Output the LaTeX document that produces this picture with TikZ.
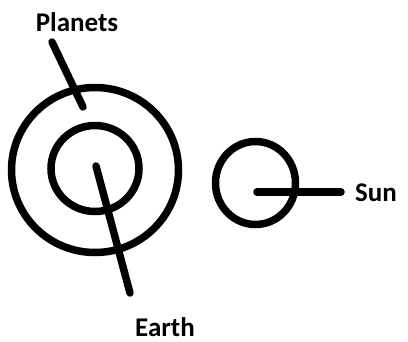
\documentclass[tikz,border=0pt]{standalone}
\usepackage{fontspec}
\setmainfont{Carlito}
\begin{document}
\begin{tikzpicture}[x=1pt,y=-1pt,
  stroke/.style={line width=7.5pt,line cap=round,black},
  lbl/.style={font=\bfseries\fontsize{27}{30}\selectfont,text=black,inner sep=0pt}]
\useasboundingbox (0,0) rectangle (408,341);
\draw[stroke] (95,170) ellipse [x radius=83.5, y radius=82.5];
\draw[stroke] (95,168.5) ellipse [x radius=44, y radius=43];
\draw[stroke] (255.5,183) ellipse [x radius=40, y radius=41.5];
\node[lbl] (planets) at (77,22.5) {Planets};
\node[lbl] (earth) at (165,327) {Earth};
\node[lbl] (sun) at (376,192.5) {Sun};
\coordinate (p1) at (52,42);
\coordinate (p2) at (83,107);
\coordinate (e1) at (96,166);
\coordinate (e2) at (130,293);
\coordinate (s1) at (257,192);
\coordinate (s2) at (341,192);
\draw[stroke] (p1) -- (p2);
\draw[stroke] (e1) -- (e2);
\draw[stroke] (s1) -- (s2);
\end{tikzpicture}
\end{document}
